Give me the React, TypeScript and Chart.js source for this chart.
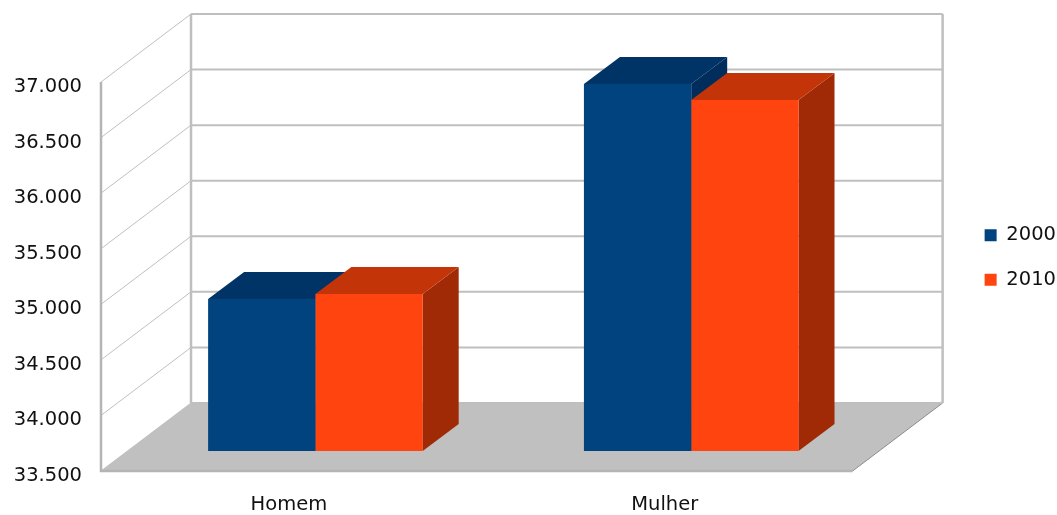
import React, { useEffect, useRef } from "react";
import { Chart, registerables } from "chart.js";

Chart.register(...registerables);

const categories = ["Homem", "Mulher"];
const seriesNames = ["2000", "2010"];
const values2000 = [34868, 36802];
const values2010 = [34913, 36658];
const axisMin = 33500;
const axisMax = 37000;
const axisStep = 500;

const FRONT_COLORS = ["#00437F", "#FF4410"];
const TOP_COLORS = ["#003366", "#C43409"];
const SIDE_COLORS = ["#002D5C", "#A02A06"];
const GRID = "#BFBFBF";
const WALL_DX = 90;
const WALL_DY = 68;
const BAR_OFF_X = 26.5;
const BAR_OFF_Y = -20;
const BAR_DX = 36;
const BAR_DY = 27;
const FONT = { family: "'DejaVu Sans'", size: 19.5 };

const box3d = {
  id: "box3d",
  beforeDatasetsDraw(chart: any) {
    const { ctx, chartArea: a, scales } = chart;
    const line = (pts: number[][], w: number, c: string) => {
      ctx.beginPath();
      pts.forEach((p, i) => (i ? ctx.lineTo(p[0], p[1]) : ctx.moveTo(p[0], p[1])));
      ctx.lineWidth = w;
      ctx.strokeStyle = c;
      ctx.stroke();
    };
    const poly = (pts: number[][], c: string) => {
      ctx.beginPath();
      pts.forEach((p, i) => (i ? ctx.lineTo(p[0], p[1]) : ctx.moveTo(p[0], p[1])));
      ctx.closePath();
      ctx.fillStyle = c;
      ctx.fill();
    };
    ctx.save();
    // floor
    poly(
      [
        [a.left, a.bottom],
        [a.left + WALL_DX, a.bottom - WALL_DY],
        [a.right + WALL_DX, a.bottom - WALL_DY],
        [a.right, a.bottom],
      ],
      "#C0C0C0"
    );
    line([[a.right, a.bottom], [a.right + WALL_DX, a.bottom - WALL_DY]], 1, "#8C8C8C");
    // grid lines on the side and back walls
    scales.y.ticks.forEach((t: any) => {
      const y = scales.y.getPixelForValue(t.value);
      line([[a.left, y], [a.left + WALL_DX, y - WALL_DY]], 1, GRID);
      line([[a.left + WALL_DX, y - WALL_DY], [a.right + WALL_DX, y - WALL_DY]], 2, GRID);
    });
    line([[a.left + WALL_DX, a.top - WALL_DY], [a.left + WALL_DX, a.bottom - WALL_DY]], 2.5, GRID);
    line([[a.right + WALL_DX, a.top - WALL_DY], [a.right + WALL_DX, a.bottom - WALL_DY]], 2.5, GRID);
    // front axis lines
    line([[a.left, a.top], [a.left, a.bottom], [a.right, a.bottom]], 2.5, "#B4B4B4");
    // bar top and side faces
    chart.data.datasets.forEach((_: any, di: number) => {
      chart.getDatasetMeta(di).data.forEach((el: any) => {
        const { x, y, width, base } = el.getProps(["x", "y", "width", "base"], true);
        const l = x - width / 2 + BAR_OFF_X;
        const r = x + width / 2 + BAR_OFF_X;
        const t = y + BAR_OFF_Y;
        const b = base + BAR_OFF_Y;
        poly([[r, t], [r + BAR_DX, t - BAR_DY], [r + BAR_DX, b - BAR_DY], [r, b]], SIDE_COLORS[di]);
        poly([[l, t], [l + BAR_DX, t - BAR_DY], [r + BAR_DX, t - BAR_DY], [r, t]], TOP_COLORS[di]);
      });
    });
    ctx.restore();
    ctx.save();
    ctx.translate(BAR_OFF_X, BAR_OFF_Y);
  },
  afterDatasetsDraw(chart: any) {
    chart.ctx.restore();
  },
};

export default function App() {
  const ref = useRef<HTMLCanvasElement>(null);
  useEffect(() => {
    const chart = new Chart(ref.current as HTMLCanvasElement, {
      type: "bar",
      data: {
        labels: categories,
        datasets: [
          { label: seriesNames[0], data: values2000, backgroundColor: FRONT_COLORS[0], base: axisMin },
          { label: seriesNames[1], data: values2010, backgroundColor: FRONT_COLORS[1], base: axisMin },
        ],
      },
      options: {
        responsive: false,
        animation: false,
        layout: { padding: { top: 0, right: -9, left: 0, bottom: 0 } },
        datasets: { bar: { barPercentage: 1, categoryPercentage: 0.571, clip: false } },
        plugins: {
          tooltip: { enabled: false },
          title: { display: false },
          legend: {
            position: "right",
            labels: { boxWidth: 12, boxHeight: 12, padding: 25, color: "#111", font: FONT },
          },
        },
        scales: {
          x: {
            grid: { display: false, drawTicks: false },
            border: { display: false },
            ticks: { color: "#111", font: FONT, padding: 22, maxRotation: 0 },
            afterFit: (s: any) => {
              s.height = 44;
            },
          },
          y: {
            min: axisMin,
            max: axisMax,
            grid: { display: false, drawTicks: false },
            border: { display: false },
            ticks: {
              stepSize: axisStep,
              color: "#111",
              font: FONT,
              padding: 19,
              labelOffset: 5,
              callback: (v: any) => Number(v).toLocaleString("de-DE"),
            },
            afterFit: (s: any) => {
              s.width = 101;
            },
          },
          topSpacer: {
            axis: "x",
            type: "linear",
            position: "top",
            grid: { display: false, drawTicks: false },
            border: { display: false },
            ticks: { display: false },
            afterFit: (s: any) => {
              s.height = 82;
            },
          },
          spacer: {
            position: "right",
            grid: { display: false, drawTicks: false },
            border: { display: false },
            ticks: { display: false },
            afterFit: (s: any) => {
              s.width = 107;
            },
          },
        },
      },
      plugins: [box3d],
    } as any);
    return () => chart.destroy();
  }, []);
  return (
    <div style={{ position: "fixed", left: 0, top: 0, width: 1057, height: 515, background: "#fff" }}>
      <canvas ref={ref} width={1057} height={515} style={{ display: "block", filter: "blur(0.4px)" }} />
    </div>
  );
}
